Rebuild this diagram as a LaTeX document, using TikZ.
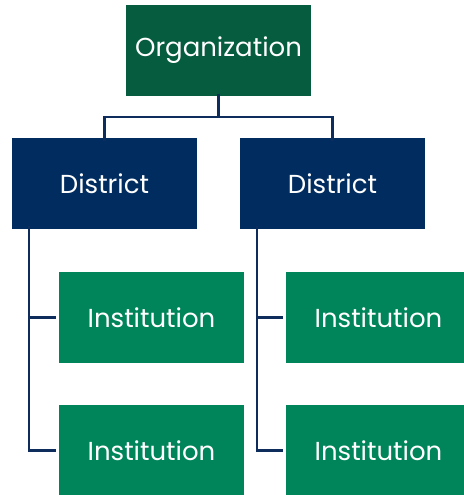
\documentclass[tikz,border=0pt]{standalone}
\usepackage{fontspec}
\setmainfont{Poppins}
\definecolor{orggreen}{HTML}{055C3F}
\definecolor{navy}{HTML}{002C5F}
\definecolor{instgreen}{HTML}{00855A}
\definecolor{linenavy}{HTML}{0E2D5C}
\begin{document}
\begin{tikzpicture}[x=1pt,y=-1pt,
  box/.style={rectangle, minimum width=185pt, minimum height=91pt, inner sep=0pt, text=white, font=\fontsize{26}{30}\selectfont},
  orgbox/.style={box, fill=orggreen},
  distbox/.style={box, fill=navy},
  instbox/.style={box, fill=instgreen},
  conn/.style={draw=linenavy, line width=2.6pt}]
\useasboundingbox (0,0) rectangle (463,495);
\node[orgbox] (org) at (218.5,50.5) {Organization};
\node[distbox] (dL) at (104.5,183.5) {District};
\node[distbox] (dR) at (332.5,183.5) {District};
\node[instbox] (iL1) at (151.5,317.5) {Institution};
\node[instbox] (iL2) at (151.5,450.5) {Institution};
\node[instbox] (iR1) at (378.5,317.5) {Institution};
\node[instbox] (iR2) at (378.5,450.5) {Institution};
\coordinate (mid) at (218.5,117);
\draw[conn] ([yshift=2pt]org.south) -- (mid);
\draw[conn] (mid) -| ([yshift=-3pt]dL.north);
\draw[conn] (mid) -| ([yshift=-3pt]dR.north);
\coordinate (tL) at ([xshift=17pt,yshift=3pt]dL.south west);
\coordinate (tR) at ([xshift=17pt,yshift=3pt]dR.south west);
\draw[conn] (tL) |- ([xshift=-3pt]iL2.west);
\draw[conn] (tL |- iL1.west) -- ([xshift=-3pt]iL1.west);
\draw[conn] (tR) |- ([xshift=-3pt]iR2.west);
\draw[conn] (tR |- iR1.west) -- ([xshift=-3pt]iR1.west);
\end{tikzpicture}
\end{document}
